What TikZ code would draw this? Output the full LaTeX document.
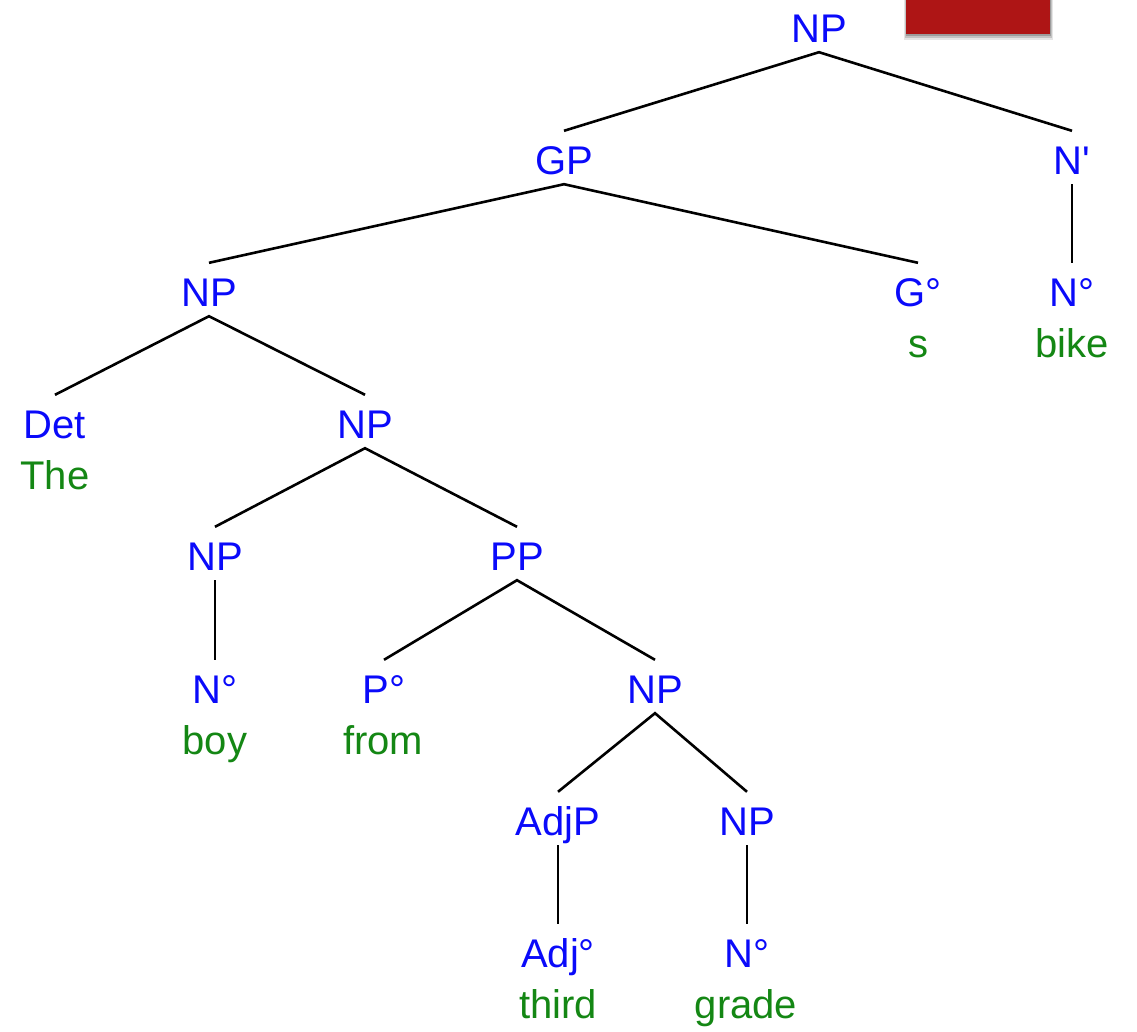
\documentclass[tikz,border=0pt]{standalone}
\usepackage{fontspec}
\setmainfont{Liberation Sans}[Ligatures=TeXOff]
\usetikzlibrary{shadows}
\definecolor{catblue}{RGB}{10,10,250}
\definecolor{wordgreen}{RGB}{20,135,20}
\definecolor{boxred}{RGB}{174,21,21}
\begin{document}
\begin{tikzpicture}[x=1pt,y=-1pt,
  cat/.style={anchor=base,inner sep=0pt,text height=43pt,text depth=10pt,text=catblue,font=\fontsize{40}{48}\selectfont},
  word/.style={anchor=base,inner sep=0pt,text=wordgreen,font=\fontsize{40}{48}\selectfont},
  branch/.style={draw=black,line width=2.6pt},
  stem/.style={draw=black,line width=2pt}]
\useasboundingbox (0,0) rectangle (1137,1031);
% red box with soft shadow
\fill[black,opacity=0.10] (904,0) rectangle (1053,40);
\fill[black,opacity=0.15] (905,0) rectangle (1052,38);
\fill[black,opacity=0.20] (906,0) rectangle (1051,36);
\node[fill=boxred,inner sep=0pt,minimum width=144pt,minimum height=34pt,anchor=north west] (redbox) at (906,0) {};
% rows: baseline = 42 + 132.14 i
\node[cat] (np0) at (819,42) {NP};
\node[cat] (gp) at (564,174) {GP};
\node[cat] (nbar) at (1072,174) {N'};
\node[cat] (np1) at (209,306) {NP};
\node[cat] (g0) at (918,306) {G°};
\node[cat] (n0a) at (1072,306) {N°};
\node[word] (ws) at (918,357) {s};
\node[word] (wbike) at (1072,357) {bike};
\node[cat] (det) at (55,438) {Det};
\node[word] (wthe) at (55,489) {The};
\node[cat] (np2) at (365,438) {NP};
\node[cat] (np3) at (215,570) {NP};
\node[cat] (pp) at (517,570) {PP};
\node[cat] (n0b) at (215,703) {N°};
\node[word] (wboy) at (215,754) {boy};
\node[cat] (p0) at (384,703) {P°};
\node[word] (wfrom) at (383,754) {from};
\node[cat] (np4) at (655,703) {NP};
\node[cat] (adjp) at (558,835) {AdjP};
\node[cat] (np5) at (747,835) {NP};
\node[cat] (adj0) at (558,967) {Adj°};
\node[word] (wthird) at (558,1018) {third};
\node[cat] (n0c) at (747,967) {N°};
\node[word] (wgrade) at (746,1018) {grade};
% connectors
\draw[branch] (gp.north) -- (np0.south) -- (nbar.north);
\draw[stem] (nbar.south) -- (n0a.north);
\draw[branch] (np1.north) -- (gp.south) -- (g0.north);
\draw[branch] (det.north) -- (np1.south) -- (np2.north);
\draw[branch] (np3.north) -- (np2.south) -- (pp.north);
\draw[stem] (np3.south) -- (n0b.north);
\draw[branch] (p0.north) -- (pp.south) -- (np4.north);
\draw[branch] (adjp.north) -- (np4.south) -- (np5.north);
\draw[stem] (adjp.south) -- (adj0.north);
\draw[stem] (np5.south) -- (n0c.north);
\end{tikzpicture}
\end{document}
